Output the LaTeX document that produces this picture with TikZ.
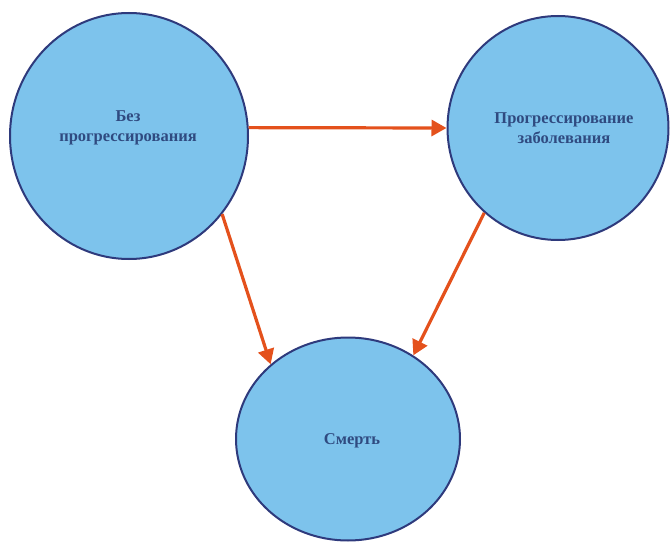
\documentclass[tikz,border=0pt]{standalone}
\usepackage{fontspec}
\setmainfont{Liberation Serif}
\usepackage{xcolor}
\usetikzlibrary{shapes.geometric,arrows.meta}

\definecolor{statefill}{HTML}{7DC3EC}
\definecolor{stateline}{HTML}{2E3A7C}
\definecolor{statetext}{HTML}{2F4A80}
\definecolor{transarrow}{HTML}{E4511C}

\tikzset{
  state/.style={ellipse, draw=stateline, line width=2pt, fill=statefill,
    inner sep=0pt},
  statelabel/.style={text=statetext, align=center, inner sep=0pt,
    font=\fontsize{16.5}{20}\selectfont\bfseries},
  trans/.style={draw=transarrow, line width=3.2pt,
    -{Triangle[width=16pt,length=15pt]}}
}

\begin{document}
\begin{tikzpicture}[x=1pt,y=-1pt]
\useasboundingbox (0,0) rectangle (670,543);

% states
\node[state, minimum width=238pt, minimum height=246pt] (free) at (129,136) {};
\node[state, minimum width=221pt, minimum height=224pt] (prog) at (558,128) {};
\node[state, minimum width=224pt, minimum height=203pt] (death) at (348,439) {};

% state names
\node[statelabel] (freename) at (128,128) {Без\\прогрессирования};
\node[statelabel] (progname) at (564,128) {Прогрессирование\\заболевания};
\node[statelabel] (deathname) at (352,441) {Смерть};

% transitions
\draw[trans] (free.4) -- (prog.west);
\draw[trans] (free.-40) -- (death.136);
\draw[trans] (prog.-131) -- (death.52);

\end{tikzpicture}
\end{document}
